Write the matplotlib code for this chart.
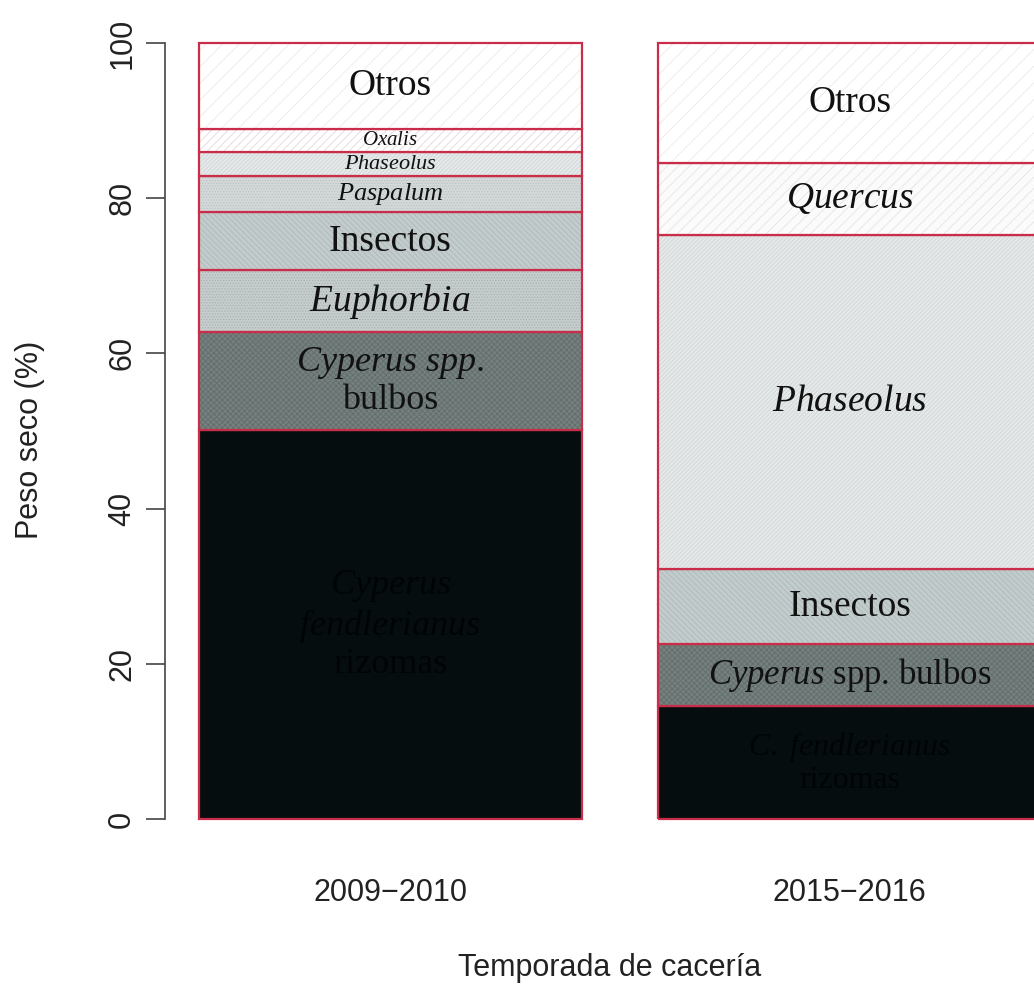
import matplotlib
matplotlib.use("Agg")
import matplotlib.pyplot as plt

# --------------------------------------------------
# Data: dry-weight percentage of each food item per hunting season
# --------------------------------------------------
seasons = ["2009\u22122010", "2015\u22122016"]

items_0910 = ["rizomas", "bulbos", "Euphorbia", "Insectos", "Paspalum",
              "Phaseolus", "Oxalis", "Otros"]
values_0910 = [50.1, 12.7, 7.9, 7.5, 4.6, 3.1, 3.0, 11.1]
labels_0910 = ["$Cyperus$\n$fendlerianus$\nrizomas", "$Cyperus\\ spp.$\nbulbos",
               "$Euphorbia$", "Insectos", "$Paspalum$", "$Phaseolus$",
               "$Oxalis$", "Otros"]

items_1516 = ["rizomas", "bulbos", "Insectos", "Phaseolus", "Quercus", "Otros"]
values_1516 = [14.5, 8.1, 9.6, 43.1, 9.2, 15.5]
labels_1516 = ["$C.\\ fendlerianus$\nrizomas", "$Cyperus$ spp. bulbos", "Insectos",
               "$Phaseolus$", "$Quercus$", "Otros"]

# --------------------------------------------------
# Styles (fill, hatch, hatch colour) per food item
# --------------------------------------------------
styles = {
    "rizomas":   ("#060d0f", None, "#060d0f"),
    "bulbos":    ("#76817f", "xxxxxx", "#626e6c"),
    "Euphorbia": ("#c6cdcd", "......", "#a9b1b1"),
    "Insectos":  ("#c2cccc", "\\\\\\\\\\\\", "#aeb8b8"),
    "Paspalum":  ("#d3d9d9", "......", "#bcc4c4"),
    "Phaseolus": ("#e5e9e9", "////////", "#d0d5d5"),
    "Oxalis":    ("#ffffff", "////", "#e6d6da"),
    "Quercus":   ("#fbfbfb", "///", "#e4e4e4"),
    "Otros":     ("#ffffff", "//", "#efe8e8"),
}
edge_red = "#c92d4a"

# font sizes of labels inside the bars (per season)
sizes_0910 = [26, 26, 27, 27, 19, 16, 15, 27]
sizes_1516 = [23, 25, 27, 27, 27, 27]

plt.rcParams["font.family"] = ["Liberation Sans", "DejaVu Sans"]
plt.rcParams["mathtext.fontset"] = "custom"
plt.rcParams["mathtext.rm"] = "Liberation Serif"
plt.rcParams["mathtext.it"] = "Liberation Serif:italic"
plt.rcParams["hatch.linewidth"] = 0.6

fig = plt.figure(figsize=(10.34, 9.9), dpi=100)
ax = fig.add_axes([165 / 1034, 140 / 990, 910 / 1034, 838 / 990])

x_pos = [0.7, 1.9]
bar_sets = [(items_0910, values_0910, labels_0910, sizes_0910),
            (items_1516, values_1516, labels_1516, sizes_1516)]

for x, (items, vals, labs, sizes) in zip(x_pos, bar_sets):
    bottom = 0
    for item, v, lab, fs in zip(items, vals, labs, sizes):
        fill, hatch, hcol = styles[item]
        # filled + hatched layer (edge colour drives hatch colour)
        ax.bar(x, v, bottom=bottom, width=1.0, color=fill, hatch=hatch,
               edgecolor=hcol, linewidth=0)
        # red outline on top
        ax.bar(x, v, bottom=bottom, width=1.0, fill=False,
               edgecolor=edge_red, linewidth=1.6)
        txt_col = "#010405" if item == "rizomas" else "#111111"
        ax.text(x, bottom + v / 2, lab, ha="center", va="center",
                fontsize=fs, family="Liberation Serif", color=txt_col,
                linespacing=1.1)
        bottom += v

ax.set_xlim(0.112, 2.488)
ax.set_ylim(-4, 104)

for s in ["top", "right", "bottom"]:
    ax.spines[s].set_visible(False)
ax.spines["left"].set_bounds(0, 100)
ax.spines["left"].set_color("#444444")
ax.spines["left"].set_linewidth(1.2)

ax.set_yticks([0, 20, 40, 60, 80, 100])
ax.tick_params(axis="y", length=14, width=1.2, color="#444444",
               labelsize=22, labelcolor="#222222", pad=6)
for lbl in ax.get_yticklabels():
    lbl.set_rotation(90)
    lbl.set_va("center")

ax.set_xticks(x_pos)
ax.set_xticklabels(seasons)
ax.tick_params(axis="x", length=0, labelsize=22, labelcolor="#222222", pad=20)

fig.text(610 / 1034, 1 - 968 / 990, "Temporada de cacería", ha="center",
         va="center", fontsize=22, color="#222222")
fig.text(30 / 1034, 1 - 440 / 990, "Peso seco (%)", ha="center", va="center",
         rotation=90, fontsize=22, color="#222222")

fig.savefig("out.png", dpi=100)
